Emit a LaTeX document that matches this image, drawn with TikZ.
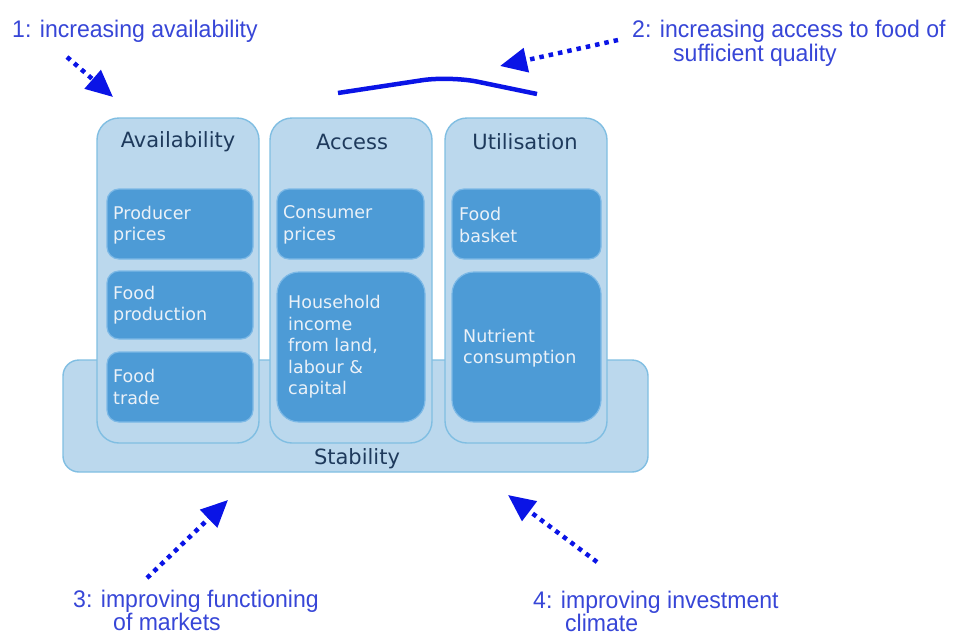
\documentclass[tikz,border=0pt]{standalone}
\usepackage{fontspec}
\usetikzlibrary{arrows.meta}
\newfontfamily\boxfont{DejaVu Sans}
\newfontfamily\annfont[FakeStretch=0.96]{Liberation Sans}
\definecolor{pillarfill}{RGB}{187,216,237}
\definecolor{pillarline}{RGB}{128,190,226}
\definecolor{innerfill}{RGB}{77,155,214}
\definecolor{innerline}{RGB}{125,185,230}
\definecolor{titlecol}{RGB}{30,58,92}
\definecolor{innertext}{RGB}{234,241,248}
\definecolor{arrowblue}{RGB}{10,20,230}
\definecolor{textblue}{RGB}{55,70,215}
\tikzset{
  pillar/.style={draw=pillarline, fill=pillarfill, line width=1.4pt, rounded corners=22pt, inner sep=0pt},
  stabbox/.style={draw=pillarline, fill=pillarfill, line width=1.4pt, rounded corners=16pt, inner sep=0pt},
  innerbox/.style={draw=innerline, fill=innerfill, line width=1.2pt, rounded corners=12pt, inner sep=0pt},
  bigbox/.style={innerbox, rounded corners=22pt},
  titletext/.style={font=\boxfont\fontsize{21}{25}\selectfont, text=titlecol, inner sep=0pt},
  boxtext/.style={font=\boxfont\fontsize{17.5}{21.5}\selectfont, text=innertext, align=left, anchor=west, inner sep=0pt},
  anntext/.style={font=\annfont\fontsize{24}{26}\selectfont, text=textblue, anchor=base west, inner sep=0pt, text height=17pt, text depth=2pt},
  dotarrow/.style={draw=arrowblue, line width=4.5pt, dash pattern=on 4.5pt off 5pt, -{Triangle[length=27pt,width=24pt]}},
  hatline/.style={draw=arrowblue, line width=4.5pt, rounded corners=28pt}
}
\begin{document}
\begin{tikzpicture}[x=1pt,y=-1pt]
\useasboundingbox (0,0) rectangle (954,635);
% stability base
\node[stabbox, minimum width=585pt, minimum height=112pt] (stab) at (355.5,416) {};
% pillars
\node[pillar, minimum width=162pt, minimum height=325pt] (avail) at (178,280.5) {};
\node[pillar, minimum width=162pt, minimum height=325pt] (access) at (351,280.5) {};
\node[pillar, minimum width=162pt, minimum height=325pt] (util) at (526,280.5) {};
% titles
\node[titletext] (availT) at (178,142) {Availability};
\node[titletext] (accessT) at (352,142) {Access};
\node[titletext] (utilT) at (525,142) {Utilisation};
\node[titletext] (stabT) at (357,459) {Stability};
% inner boxes
\node[innerbox, minimum width=146pt, minimum height=70pt] (prodp) at (180,224) {};
\node[innerbox, minimum width=146pt, minimum height=68pt] (foodp) at (180,305) {};
\node[innerbox, minimum width=146pt, minimum height=70pt] (foodt) at (180,387) {};
\node[innerbox, minimum width=147pt, minimum height=70pt] (consp) at (350.5,224) {};
\node[bigbox, minimum width=148pt, minimum height=150pt] (house) at (351,347) {};
\node[innerbox, minimum width=149pt, minimum height=70pt] (basket) at (526.5,224) {};
\node[bigbox, minimum width=149pt, minimum height=150pt] (nutr) at (526.5,347) {};
% inner texts
\node[boxtext] (prodpT) at (113,225) {Producer\\prices};
\node[boxtext] (foodpT) at (113,305) {Food\\production};
\node[boxtext] (foodtT) at (113,387) {Food\\trade};
\node[boxtext] (conspT) at (283,225) {Consumer\\prices};
\node[boxtext] (houseT) at (288,347) {Household\\income\\from land,\\labour \&\\capital};
\node[boxtext] (basketT) at (459,225) {Food\\basket};
\node[boxtext] (nutrT) at (463,348) {Nutrient\\consumption};
% annotations
\node[anntext] (ann1) at (12,37) {1: increasing availability};
\node[anntext] (ann2a) at (632,37) {2: increasing access to food of};
\node[anntext] (ann2b) at (673,61) {sufficient quality};
\node[anntext] (ann3a) at (73,607) {3: improving functioning};
\node[anntext] (ann3b) at (113,630) {of markets};
\node[anntext] (ann4a) at (533,608) {4: improving investment};
\node[anntext] (ann4b) at (565,631) {climate};
% arrows
\coordinate (a1s) at (67,57);   \coordinate (a1t) at (113,97);
\coordinate (a2s) at (618,40);  \coordinate (a2t) at (500,66);
\coordinate (a3s) at (147,578); \coordinate (a3t) at (228,500);
\coordinate (a4s) at (597,562); \coordinate (a4t) at (508,495);
\draw[dotarrow] (a1s) -- (a1t);
\draw[dotarrow] (a2s) -- (a2t);
\draw[dotarrow] (a3s) -- (a3t);
\draw[dotarrow] (a4s) -- (a4t);
% hat line
\coordinate (h1) at (338,93);
\coordinate (h2) at (450,76);
\coordinate (h3) at (537,94);
\draw[hatline] (h1) -- (h2) -- (h3);
\end{tikzpicture}
\end{document}
